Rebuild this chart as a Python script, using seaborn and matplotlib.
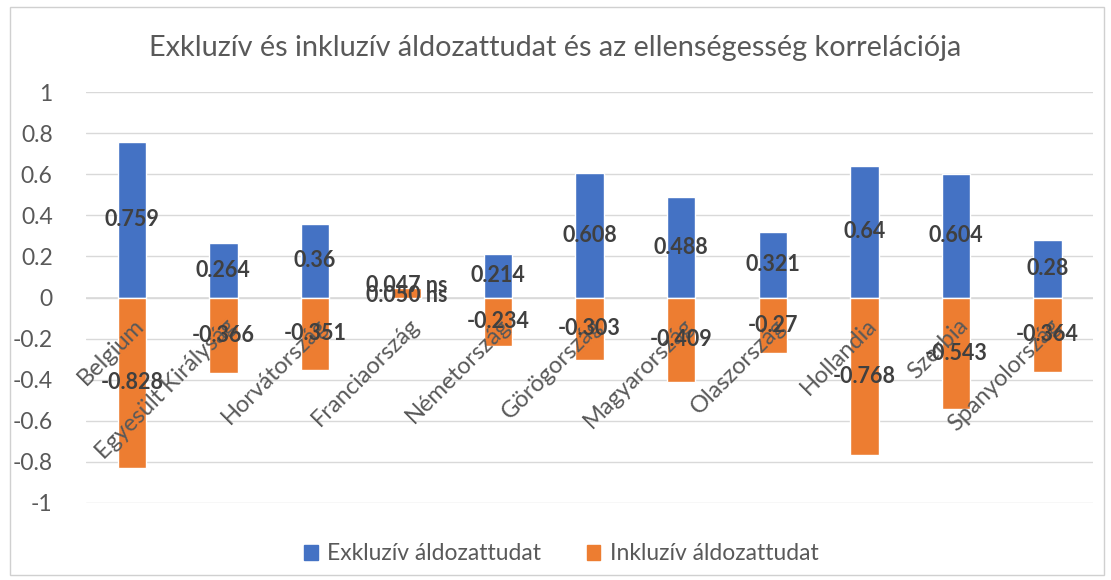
import pandas as pd
import seaborn as sns
import matplotlib.pyplot as plt
from matplotlib.patches import Rectangle

# Data
countries = ['Belgium', 'Egyesült Királyság', 'Horvátország', 'Franciaország',
             'Németország', 'Görögország', 'Magyarország', 'Olaszország',
             'Hollandia', 'Szerbia', 'Spanyolország']
exkluziv = [0.759, 0.264, 0.36, 0.050, 0.214, 0.608, 0.488, 0.321, 0.64, 0.604, 0.28]
inkluziv = [-0.828, -0.366, -0.351, 0.047, -0.234, -0.303, -0.409, -0.27, -0.768, -0.543, -0.364]
exkluziv_labels = ['0.759', '0.264', '0.36', '0.050 ns', '0.214', '0.608', '0.488', '0.321', '0.64', '0.604', '0.28']
inkluziv_labels = ['-0.828', '-0.366', '-0.351', '0.047 ns', '-0.234', '-0.303', '-0.409', '-0.27', '-0.768', '-0.543', '-0.364']
series_names = ['Exkluzív áldozattudat', 'Inkluzív áldozattudat']
colors = ['#4472C4', '#ED7D31']

df = pd.DataFrame({
    'orszag': countries * 2,
    'ertek': exkluziv + inkluziv,
    'sorozat': [series_names[0]] * len(countries) + [series_names[1]] * len(countries),
})

sns.set_style('white')
plt.rcParams['font.family'] = ['Lato', 'DejaVu Sans']

fig = plt.figure(figsize=(11.11, 5.8), dpi=100)
ax = fig.add_axes([0.0774, 0.133, 0.9066, 0.708])

sns.barplot(data=df, x='orszag', y='ertek', hue='sorozat', palette=colors,
            saturation=1, dodge=False, width=0.31, ax=ax, zorder=3)

ax.set_ylim(-1, 1)
ax.set_xlim(-0.5, len(countries) - 0.5)
yt = [round(-1 + 0.2 * i, 1) for i in range(11)]
ax.set_yticks(yt)
ax.set_yticklabels(['%g' % v for v in yt], fontsize=16.5, color='#595959')
ax.tick_params(axis='y', length=0, pad=24)
ax.grid(axis='y', color='#d9d9d9', linewidth=1, zorder=0)
ax.axhline(0, color='#d9d9d9', linewidth=1.2, zorder=2)
for s in ax.spines.values():
    s.set_visible(False)

# category labels drawn below the zero line, rotated like in Excel
ax.set_xticks(range(len(countries)))
ax.set_xticklabels([])
ax.tick_params(axis='x', length=0)
ax.set_xlabel('')
ax.set_ylabel('')
for i, name in enumerate(countries):
    ax.text(i + 0.02, -0.085, name, rotation=45, ha='right', va='top',
            rotation_mode='anchor', fontsize=17, color='#595959', zorder=5)

# data labels at bar centres
for i in range(len(countries)):
    e, n = exkluziv[i], inkluziv[i]
    ye, yn = e / 2, n / 2
    if e > 0 and n > 0:
        yn = ye + 0.035
        ye = ye - 0.015
    ax.text(i, ye, exkluziv_labels[i], ha='center', va='center', fontsize=15.5,
            fontweight='bold', color='#404040', zorder=6)
    ax.text(i, yn, inkluziv_labels[i], ha='center', va='center', fontsize=15.5,
            fontweight='bold', color='#404040', zorder=6)

ax.legend_.remove()
handles = [Rectangle((0, 0), 1, 1, color=c) for c in colors]
fig.legend(handles, series_names, loc='center', bbox_to_anchor=(0.505, 0.045),
           ncol=2, frameon=False, fontsize=16.5, handlelength=0.6, handleheight=0.6,
           columnspacing=2.0, handletextpad=0.4, labelcolor='#595959')

fig.suptitle('Exkluzív és inkluzív áldozattudat és az ellenségesség korrelációja',
             y=0.94, fontsize=20.8, color='#595959')

fig.patches.append(Rectangle((0.009, 0.008), 0.985, 0.98, transform=fig.transFigure,
                             fill=False, edgecolor='#d0d0d0', linewidth=1))

fig.savefig('out.png', dpi=100)
